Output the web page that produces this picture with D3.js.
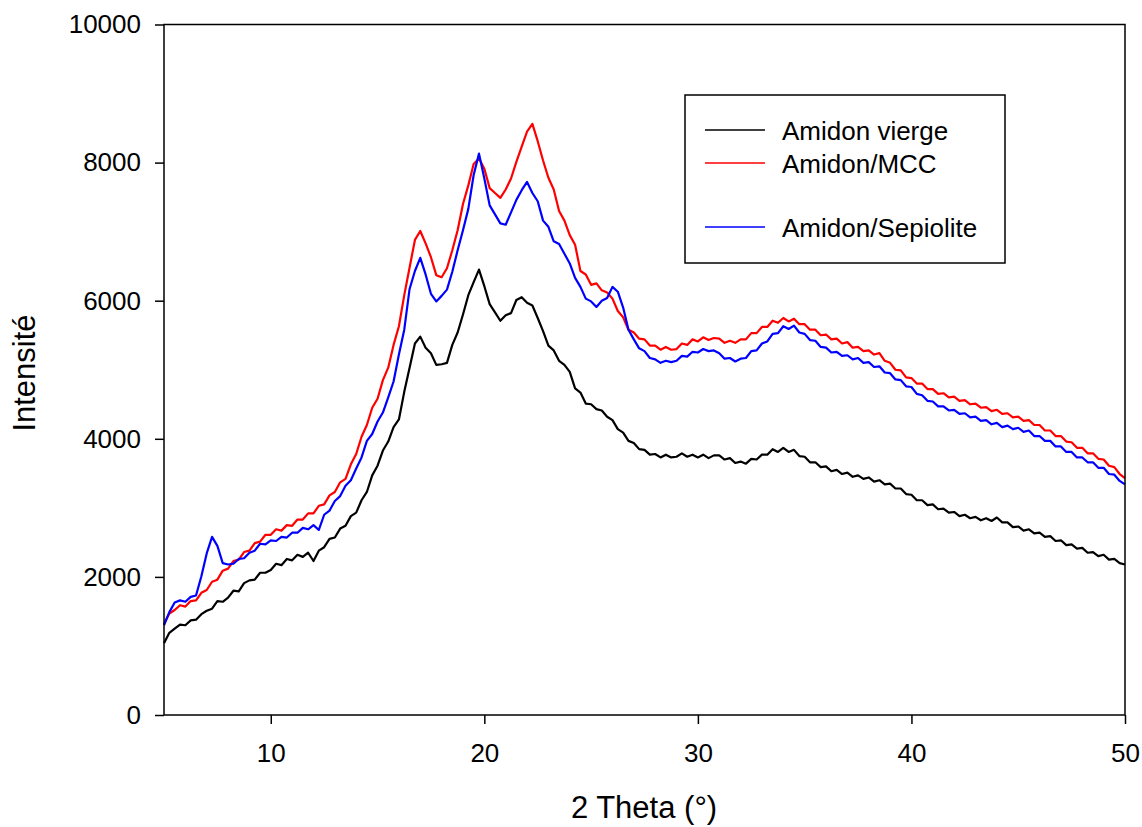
<!DOCTYPE html>
<html lang="fr">
<head>
<meta charset="UTF-8">
<title>DRX Amidon</title>
<script src="https://d3js.org/d3.v7.min.js"></script>
<style>
  body { margin: 0; background: #fff; }
  svg text { font-family: "Liberation Sans", Arial, sans-serif; fill: #000; }
  .tick text { font-size: 26px; }
  .axis-title { font-size: 31px; }
  .legend text { font-size: 26px; }
</style>
</head>
<body>
<svg width="1142" height="827"></svg>
<script>
// intensities every 0.25 deg from 5 to 50 (one row = one degree)
const amidonVierge = [
  1040, 1190, 1250, 1310,  1300, 1370, 1380, 1460,  1510, 1540, 1650, 1640,  1700, 1800, 1790, 1910,
  1950, 1960, 2060, 2060,  2100, 2190, 2170, 2260,  2240, 2320, 2290, 2350,  2230, 2380, 2430, 2550,
  2570, 2700, 2740, 2880,  2930, 3110, 3230, 3470,  3610, 3830, 3960, 4170,  4280, 4680, 5030, 5380,
  5480, 5320, 5240, 5070,  5080, 5100, 5360, 5540,  5800, 6080, 6270, 6450,  6210, 5950, 5830, 5710,
  5790, 5820, 6010, 6050,  5970, 5930, 5750, 5560,  5350, 5280, 5130, 5070,  4970, 4730, 4670, 4510,
  4500, 4430, 4410, 4320,  4270, 4140, 4090, 3970,  3940, 3850, 3840, 3770,  3780, 3730, 3770, 3730,
  3740, 3790, 3740, 3770,  3730, 3770, 3720, 3760,  3760, 3700, 3720, 3650,  3670, 3640, 3710, 3700,
  3770, 3770, 3850, 3810,  3870, 3810, 3840, 3750,  3740, 3660, 3660, 3590,  3600, 3530, 3550, 3490,
  3510, 3450, 3470, 3420,  3440, 3380, 3400, 3340,  3350, 3280, 3280, 3200,  3190, 3110, 3110, 3040,
  3050, 2980, 2990, 2930,  2940, 2880, 2900, 2850,  2870, 2820, 2850, 2810,  2860, 2790, 2790, 2720,
  2730, 2670, 2690, 2630,  2640, 2580, 2590, 2520,  2530, 2460, 2470, 2410,  2420, 2350, 2360, 2300,
  2320, 2250, 2260, 2200,  2180
];

const amidonMCC = [
  1320, 1470, 1520, 1590,  1570, 1650, 1660, 1770,  1810, 1930, 1960, 2090,  2120, 2230, 2250, 2360,
  2380, 2490, 2510, 2610,  2610, 2690, 2670, 2750,  2740, 2830, 2830, 2920,  2920, 3030, 3050, 3180,
  3230, 3370, 3420, 3630,  3780, 4030, 4200, 4450,  4580, 4850, 5030, 5360,  5630, 6080, 6480, 6880,
  7010, 6830, 6630, 6370,  6340, 6470, 6730, 7020,  7400, 7670, 7980, 8060,  7910, 7630, 7560, 7490,
  7610, 7770, 8010, 8230,  8450, 8560, 8310, 8030,  7780, 7610, 7300, 7160,  6950, 6810, 6430, 6380,
  6230, 6250, 6150, 6120,  6030, 5850, 5760, 5580,  5540, 5450, 5440, 5350,  5350, 5290, 5330, 5290,
  5300, 5380, 5360, 5440,  5410, 5470, 5430, 5460,  5450, 5390, 5420, 5390,  5440, 5440, 5530, 5530,
  5620, 5620, 5710, 5680,  5750, 5700, 5740, 5660,  5660, 5580, 5580, 5500,  5510, 5440, 5450, 5380,
  5400, 5320, 5330, 5270,  5280, 5220, 5240, 5130,  5100, 5000, 4990, 4890,  4880, 4800, 4800, 4720,
  4720, 4650, 4660, 4600,  4610, 4550, 4560, 4500,  4510, 4450, 4460, 4400,  4420, 4360, 4370, 4310,
  4320, 4260, 4270, 4200,  4200, 4120, 4120, 4040,  4040, 3960, 3950, 3870,  3870, 3790, 3790, 3710,
  3700, 3610, 3590, 3490,  3430
];

const amidonSepiolite = [
  1300, 1490, 1630, 1660,  1640, 1710, 1730, 2010,  2340, 2580, 2450, 2200,  2180, 2190, 2260, 2270,
  2350, 2380, 2480, 2470,  2530, 2520, 2580, 2570,  2640, 2640, 2710, 2690,  2750, 2680, 2900, 2960,
  3100, 3170, 3320, 3400,  3570, 3730, 3970, 4070,  4250, 4380, 4600, 4830,  5220, 5580, 6170, 6430,
  6620, 6380, 6100, 5990,  6070, 6160, 6420, 6730,  7020, 7330, 7820, 8130,  7770, 7380, 7250, 7120,
  7100, 7280, 7460, 7600,  7720, 7560, 7440, 7160,  7070, 6860, 6820, 6680,  6540, 6330, 6200, 6030,
  5990, 5910, 6000, 6040,  6200, 6130, 5900, 5580,  5440, 5310, 5270, 5170,  5150, 5100, 5130, 5110,
  5130, 5200, 5190, 5260,  5250, 5300, 5270, 5280,  5240, 5160, 5170, 5120,  5160, 5170, 5270, 5280,
  5380, 5410, 5520, 5530,  5630, 5590, 5640, 5540,  5520, 5430, 5420, 5330,  5320, 5250, 5260, 5200,
  5210, 5150, 5170, 5100,  5110, 5040, 5050, 4960,  4950, 4860, 4850, 4760,  4750, 4650, 4630, 4550,
  4540, 4470, 4470, 4410,  4420, 4360, 4370, 4310,  4320, 4260, 4270, 4210,  4230, 4170, 4190, 4140,
  4160, 4100, 4120, 4040,  4040, 3970, 3970, 3890,  3890, 3810, 3810, 3730,  3730, 3660, 3660, 3580,
  3580, 3490, 3480, 3390,  3340
];

// 2 theta grid of the scan (0.25 deg step)
const twoTheta = amidonVierge.map((_, i) => 5 + i * 0.25);

const seriesNames = ["Amidon vierge", "Amidon/MCC", "Amidon/Sepiolite"];
const seriesColors = ["#000000", "#ff0000", "#0000ff"];
const xTicks = [10, 20, 30, 40, 50];
const yTicks = [0, 2000, 4000, 6000, 8000, 10000];

const width = 1142, height = 827;
const margin = { top: 24.5, right: 17, bottom: 112, left: 164 };

const svg = d3.select("svg");

const x = d3.scaleLinear().domain([5, 50]).range([margin.left, width - margin.right]);
const y = d3.scaleLinear().domain([0, 10000]).range([height - margin.bottom, margin.top]);

const allSeries = [amidonVierge, amidonMCC, amidonSepiolite];

const line = d3.line()
    .x((d, i) => x(twoTheta[i]))
    .y(d => y(d));

svg.append("g")
    .selectAll("path")
    .data(allSeries)
    .enter().append("path")
    .attr("d", d => line(d))
    .attr("fill", "none")
    .attr("stroke", (d, i) => seriesColors[i])
    .attr("stroke-width", 2.2)
    .attr("stroke-linejoin", "round");

// frame
svg.append("rect")
    .attr("x", x(5))
    .attr("y", y(10000))
    .attr("width", x(50) - x(5))
    .attr("height", y(0) - y(10000))
    .attr("fill", "none")
    .attr("stroke", "#000")
    .attr("stroke-width", 1.5);

const xAxis = svg.append("g")
    .attr("transform", `translate(0,${y(0)})`)
    .call(d3.axisBottom(x).tickValues(xTicks).tickSize(9).tickSizeOuter(0).tickPadding(20));

const yAxis = svg.append("g")
    .attr("transform", `translate(${x(5)},0)`)
    .call(d3.axisLeft(y).tickValues(yTicks).tickSize(9).tickSizeOuter(0).tickPadding(14).tickFormat(d3.format("d")));

[xAxis, yAxis].forEach(g => {
  g.select(".domain").remove();
  g.selectAll(".tick line").attr("stroke", "#000").attr("stroke-width", 1.5);
});

svg.append("text")
    .attr("class", "axis-title")
    .attr("x", 644)
    .attr("y", 818)
    .attr("text-anchor", "middle")
    .text("2 Theta (°)");

svg.append("text")
    .attr("class", "axis-title")
    .attr("transform", "translate(35,373) rotate(-90)")
    .attr("text-anchor", "middle")
    .text("Intensité");

// legend
const legend = svg.append("g").attr("class", "legend");
legend.append("rect")
    .attr("x", 685).attr("y", 95)
    .attr("width", 320).attr("height", 168)
    .attr("fill", "#fff")
    .attr("stroke", "#000")
    .attr("stroke-width", 1.5);

const legendY = [130, 163, 227];
seriesNames.forEach((name, i) => {
  legend.append("line")
      .attr("x1", 705).attr("x2", 765)
      .attr("y1", legendY[i]).attr("y2", legendY[i])
      .attr("stroke", seriesColors[i])
      .attr("stroke-width", 1.7);
  legend.append("text")
      .attr("x", 782)
      .attr("y", legendY[i] + 9.5)
      .text(name);
});
</script>
</body>
</html>
